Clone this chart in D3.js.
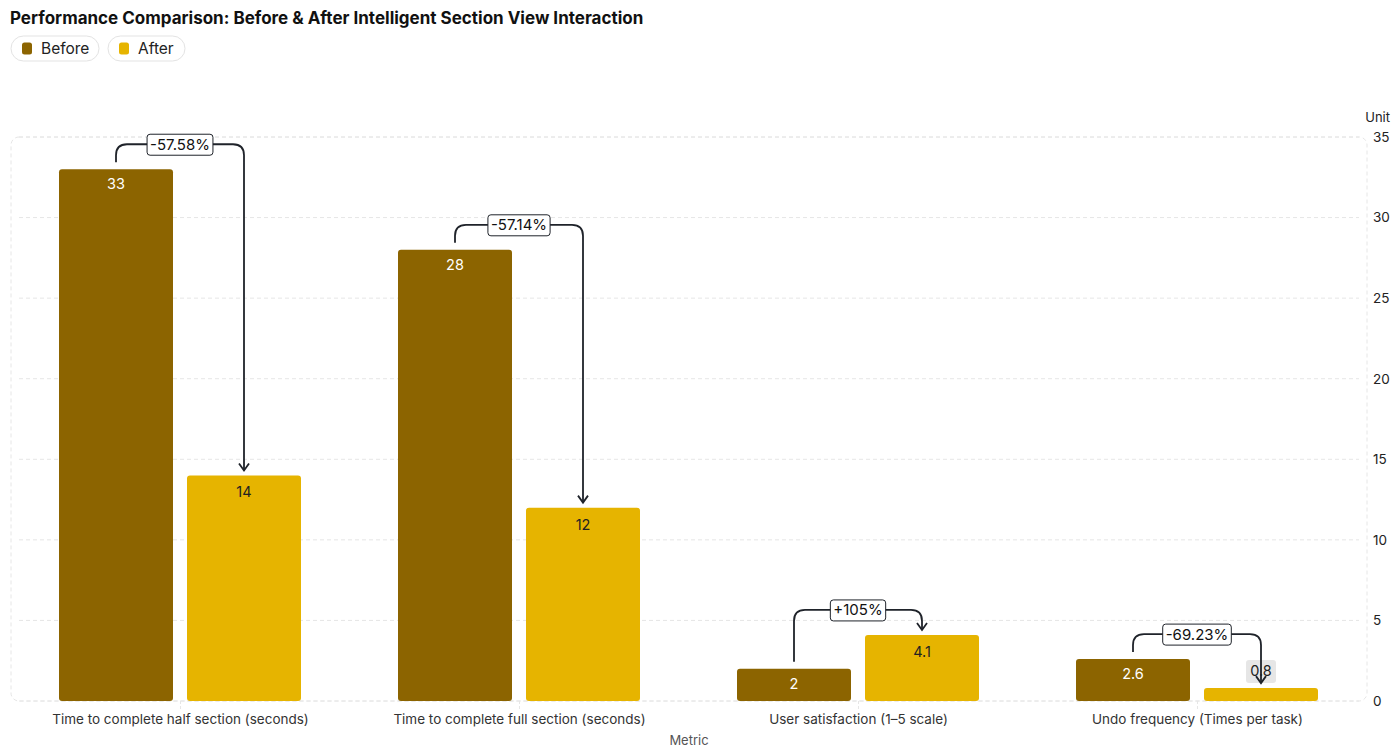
<!DOCTYPE html>
<html>
<head>
<meta charset="utf-8">
<script src="https://cdn.jsdelivr.net/npm/d3@7"></script>
<style>
  body { margin: 0; background: #fff; font-family: Inter, "Noto Sans", sans-serif; }
</style>
</head>
<body>
<div id="chart"></div>
<script>
const categories = [
  "Time to complete half section (seconds)",
  "Time to complete full section (seconds)",
  "User satisfaction (1\u20135 scale)",
  "Undo frequency (Times per task)"
];
const seriesNames = ["Before", "After"];
const beforeValues = [33, 28, 2, 2.6];
const afterValues = [14, 12, 4.1, 0.8];
const yTicks = [0, 5, 10, 15, 20, 25, 30, 35];
const colors = ["#8c6400", "#e6b400"];

const width = 1400, height = 754;
const plot = { left: 11, right: 1367, top: 137, bottom: 701 };

const svg = d3.select("#chart").append("svg")
  .attr("width", width)
  .attr("height", height)
  .style("font-family", "Inter, 'Noto Sans', sans-serif");

// title
svg.append("text")
  .attr("x", 10).attr("y", 24)
  .attr("font-size", 17).attr("font-weight", 700)
  .attr("fill", "#111")
  .text("Performance Comparison: Before & After Intelligent Section View Interaction");

// legend pills
const legendW = [88, 77];
let lx = 11;
seriesNames.forEach((name, i) => {
  const g = svg.append("g").attr("transform", `translate(${lx},36)`);
  g.append("rect").attr("width", legendW[i]).attr("height", 25).attr("rx", 12.5)
    .attr("fill", "#fff").attr("stroke", "#e3e3e3");
  g.append("rect").attr("x", 11).attr("y", 6.5).attr("width", 10).attr("height", 12).attr("rx", 2.5)
    .attr("fill", colors[i]);
  g.append("text").attr("x", 30).attr("y", 17.5).attr("font-size", 15.5).attr("fill", "#222").text(name);
  lx += legendW[i] + 9;
});

const y = d3.scaleLinear().domain([0, 35]).range([plot.bottom, plot.top]);
const x0 = d3.scaleBand().domain(categories).range([plot.left, plot.right]).padding(0);
const x1 = d3.scaleBand().domain(seriesNames).range([48, 290]).paddingInner(14 / 128).paddingOuter(0);

// grid
svg.append("g").selectAll("line").data(yTicks).join("line")
  .attr("x1", plot.left + 8).attr("x2", plot.right - 8)
  .attr("y1", d => y(d)).attr("y2", d => y(d))
  .attr("stroke", "#e6e6e6").attr("stroke-dasharray", "4,3");
svg.append("rect")
  .attr("x", plot.left).attr("y", plot.top)
  .attr("width", plot.right - plot.left).attr("height", plot.bottom - plot.top)
  .attr("rx", 8).attr("fill", "none")
  .attr("stroke", "#e6e6e6").attr("stroke-dasharray", "4,3");

// x ticks
svg.append("g").selectAll("line").data(categories).join("line")
  .attr("x1", d => x0(d) + x0.bandwidth() / 2).attr("x2", d => x0(d) + x0.bandwidth() / 2)
  .attr("y1", plot.bottom).attr("y2", plot.bottom + 10)
  .attr("stroke", "#e6e6e6").attr("stroke-dasharray", "3,2");

// right axis
const yAxis = svg.append("g")
  .attr("transform", `translate(${plot.right},0)`)
  .call(d3.axisRight(y).tickValues(yTicks).tickSize(0).tickPadding(6));
yAxis.select(".domain").remove();
yAxis.selectAll("text").attr("font-size", 13.5).attr("fill", "#222")
  .style("font-family", "Inter, 'Noto Sans', sans-serif");
svg.append("text").attr("x", 1390).attr("y", 122).attr("text-anchor", "end")
  .attr("font-size", 13).attr("fill", "#222").text("Unit");

// x labels
svg.append("g").selectAll("text").data(categories).join("text")
  .attr("x", d => x0(d) + x0.bandwidth() / 2).attr("y", 724)
  .attr("text-anchor", "middle").attr("font-size", 13.5).attr("fill", "#333")
  .text(d => d);
svg.append("text").attr("x", 689).attr("y", 745).attr("text-anchor", "middle")
  .attr("font-size", 13).attr("fill", "#555").text("Metric");

const rows = categories.map((c, i) => ({
  cat: c,
  vals: [{ s: "Before", v: beforeValues[i] }, { s: "After", v: afterValues[i] }]
}));

// bars
const groups = svg.append("g").selectAll("g").data(rows).join("g")
  .attr("transform", d => `translate(${x0(d.cat)},0)`);
groups.selectAll("rect").data(d => d.vals).join("rect")
  .attr("x", d => x1(d.s)).attr("width", x1.bandwidth())
  .attr("y", d => y(d.v)).attr("height", d => y(0) - y(d.v))
  .attr("rx", 3)
  .attr("fill", (d, i) => colors[i]);

// bar value labels
groups.each(function (d) {
  const g = d3.select(this);
  d.vals.forEach((e, i) => {
    const cx = x1(e.s) + x1.bandwidth() / 2;
    const h = y(0) - y(e.v);
    if (h < 25) {
      const ty = y(e.v) - 17;
      g.append("rect").attr("x", cx - 15).attr("y", ty - 11).attr("width", 30).attr("height", 23)
        .attr("rx", 3).attr("fill", "#e6e6e6");
      g.append("text").attr("x", cx).attr("y", ty + 5).attr("text-anchor", "middle")
        .attr("font-size", 14.5).attr("fill", "#222").text(e.v);
    } else {
      g.append("text").attr("x", cx).attr("y", y(e.v) + (i === 0 ? 20 : 22))
        .attr("text-anchor", "middle").attr("font-size", 14.5)
        .attr("fill", i === 0 ? "#fff" : "#222").text(e.v);
    }
  });
});

// change annotations
const fmt = d3.formatLocale({ decimal: ".", thousands: ",", grouping: [3], currency: ["", ""], minus: "-" })
  .format("+.2~f");
const r = 11;
rows.forEach((d, i) => {
  const b = beforeValues[i], a = afterValues[i];
  const xb = x0(d.cat) + x1("Before") + x1.bandwidth() / 2;
  const xa = x0(d.cat) + x1("After") + x1.bandwidth() / 2;
  const ys = y(b) - 7;
  const ye = y(a) - 5;
  const by = y(Math.max(a, b)) - 25;
  const path = d3.path();
  path.moveTo(xb, ys);
  path.lineTo(xb, by + r);
  path.quadraticCurveTo(xb, by, xb + r, by);
  path.lineTo(xa - r, by);
  path.quadraticCurveTo(xa, by, xa, by + r);
  path.lineTo(xa, ye);
  svg.append("path").attr("d", path.toString())
    .attr("fill", "none").attr("stroke", "#1f232a").attr("stroke-width", 1.8);
  svg.append("path")
    .attr("d", `M${xa - 5},${ye - 7}L${xa},${ye}L${xa + 5},${ye - 7}`)
    .attr("fill", "none").attr("stroke", "#1f232a").attr("stroke-width", 1.8);

  const label = fmt((a - b) / b * 100) + "%";
  const mx = (xb + xa) / 2;
  const t = svg.append("text").attr("x", mx).attr("y", by + 5.5)
    .attr("text-anchor", "middle").attr("font-size", 15).attr("fill", "#111").text(label);
  const w = t.node().getComputedTextLength() + 6;
  svg.insert("rect", () => t.node())
    .attr("x", mx - w / 2).attr("y", by - 10).attr("width", w).attr("height", 21)
    .attr("rx", 3).attr("fill", "#fff").attr("stroke", "#1f232a").attr("stroke-width", 1);
});
</script>
</body>
</html>
